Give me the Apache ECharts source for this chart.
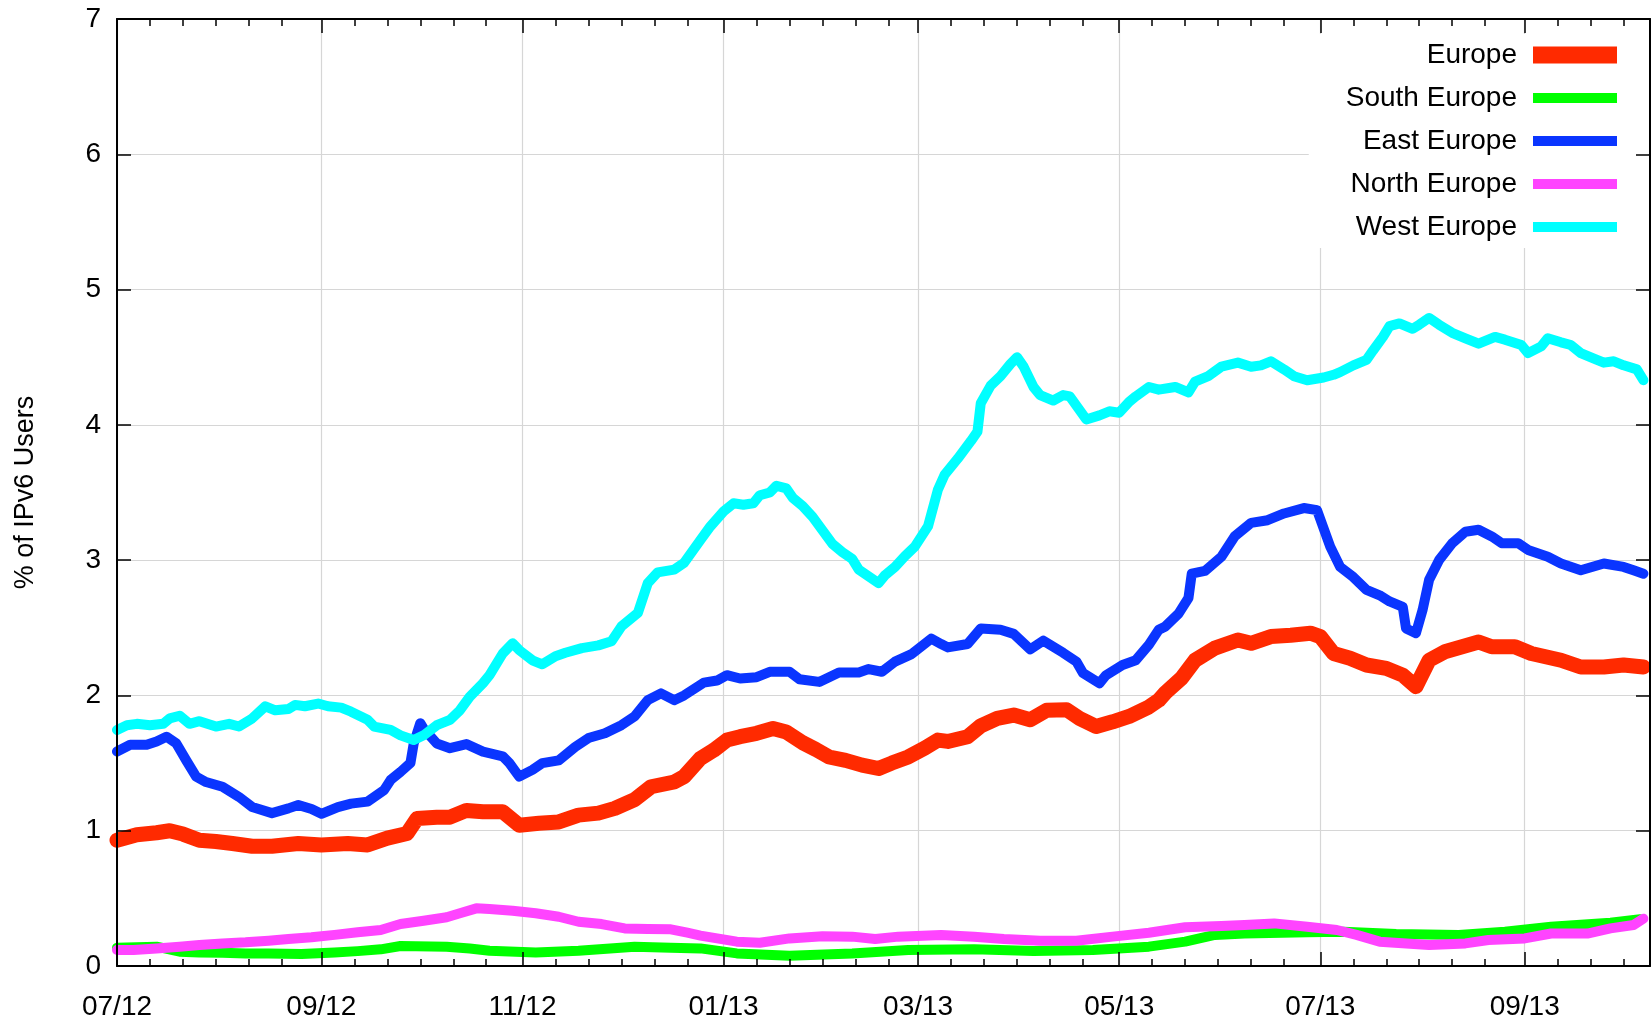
<!DOCTYPE html>
<html>
<head>
<meta charset="utf-8">
<title>% of IPv6 Users - Europe</title>
<script src="https://cdn.jsdelivr.net/npm/echarts@6/dist/echarts.min.js"></script>
<style>
html,body{margin:0;padding:0;background:#fff;}
#chart{width:1652px;height:1022px;}
</style>
</head>
<body>
<div id="chart"></div>
<script>
// ---------------- data ----------------
const xRange = ['2012-07-01', '2013-10-09'];
const majorTickDates = ['2012-07-01','2012-09-01','2012-11-01','2013-01-01','2013-03-01','2013-05-01','2013-07-01','2013-09-01'];
const majorTickLabels = ['07/12','09/12','11/12','01/13','03/13','05/13','07/13','09/13'];
const minorStepDays = 10;
const yTicks = [0, 1, 2, 3, 4, 5, 6, 7];

const seriesNames = ['Europe', 'South Europe', 'East Europe', 'North Europe', 'West Europe'];

const europe = [
['2012-07-01',0.93],['2012-07-07',0.97],['2012-07-13',0.985],['2012-07-17',1.0],['2012-07-21',0.975],['2012-07-26',0.93],['2012-07-31',0.92],['2012-08-05',0.905],['2012-08-11',0.885],['2012-08-17',0.885],['2012-08-25',0.905],['2012-09-01',0.895],['2012-09-09',0.905],['2012-09-15',0.895],['2012-09-21',0.945],['2012-09-27',0.98],['2012-09-30',1.09],['2012-10-06',1.10],['2012-10-10',1.10],['2012-10-15',1.15],['2012-10-20',1.14],['2012-10-26',1.14],['2012-10-31',1.04],['2012-11-06',1.055],['2012-11-12',1.065],['2012-11-18',1.115],['2012-11-24',1.13],['2012-11-29',1.165],['2012-12-05',1.23],['2012-12-10',1.325],['2012-12-17',1.36],['2012-12-20',1.40],['2012-12-25',1.535],['2012-12-29',1.595],['2013-01-02',1.67],['2013-01-06',1.695],['2013-01-11',1.72],['2013-01-16',1.755],['2013-01-20',1.73],['2013-01-25',1.65],['2013-01-29',1.60],['2013-02-02',1.545],['2013-02-07',1.52],['2013-02-12',1.485],['2013-02-17',1.46],['2013-02-21',1.50],['2013-02-26',1.545],['2013-03-03',1.61],['2013-03-07',1.67],['2013-03-10',1.66],['2013-03-16',1.695],['2013-03-20',1.775],['2013-03-25',1.83],['2013-03-30',1.855],['2013-04-04',1.82],['2013-04-09',1.89],['2013-04-15',1.895],['2013-04-19',1.83],['2013-04-24',1.77],['2013-04-29',1.805],['2013-05-04',1.845],['2013-05-10',1.915],['2013-05-13',1.965],['2013-05-15',2.02],['2013-05-20',2.13],['2013-05-24',2.26],['2013-05-30',2.35],['2013-06-06',2.41],['2013-06-10',2.385],['2013-06-16',2.435],['2013-06-22',2.445],['2013-06-28',2.46],['2013-07-01',2.435],['2013-07-05',2.31],['2013-07-10',2.275],['2013-07-15',2.225],['2013-07-21',2.20],['2013-07-26',2.15],['2013-07-30',2.065],['2013-08-03',2.26],['2013-08-08',2.325],['2013-08-13',2.36],['2013-08-18',2.395],['2013-08-22',2.36],['2013-08-29',2.36],['2013-09-03',2.31],['2013-09-12',2.26],['2013-09-18',2.21],['2013-09-25',2.21],['2013-10-01',2.225],['2013-10-07',2.21]
];

const southEurope = [
['2012-07-01',0.135],['2012-07-13',0.143],['2012-07-20',0.106],['2012-07-26',0.10],['2012-08-02',0.098],['2012-08-09',0.093],['2012-08-16',0.093],['2012-08-26',0.088],['2012-09-05',0.10],['2012-09-12',0.11],['2012-09-19',0.123],['2012-09-25',0.148],['2012-10-09',0.143],['2012-10-16',0.13],['2012-10-22',0.113],['2012-11-05',0.10],['2012-11-18',0.113],['2012-12-05',0.143],['2012-12-16',0.135],['2012-12-25',0.13],['2013-01-05',0.093],['2013-01-21',0.076],['2013-02-09',0.093],['2013-02-26',0.118],['2013-03-18',0.123],['2013-04-05',0.11],['2013-04-23',0.118],['2013-05-10',0.143],['2013-05-21',0.18],['2013-05-30',0.23],['2013-06-08',0.24],['2013-06-27',0.249],['2013-07-08',0.254],['2013-07-24',0.236],['2013-08-12',0.23],['2013-08-26',0.254],['2013-09-09',0.29],['2013-09-27',0.32],['2013-10-06',0.345]
];

const eastEurope = [
['2012-07-01',1.585],['2012-07-05',1.635],['2012-07-10',1.635],['2012-07-13',1.66],['2012-07-16',1.695],['2012-07-19',1.645],['2012-07-22',1.52],['2012-07-25',1.40],['2012-07-28',1.36],['2012-08-02',1.325],['2012-08-07',1.25],['2012-08-11',1.175],['2012-08-17',1.13],['2012-08-22',1.165],['2012-08-25',1.19],['2012-08-29',1.16],['2012-09-01',1.125],['2012-09-06',1.175],['2012-09-10',1.20],['2012-09-15',1.215],['2012-09-20',1.30],['2012-09-22',1.375],['2012-09-25',1.435],['2012-09-28',1.50],['2012-09-29',1.645],['2012-10-01',1.795],['2012-10-02',1.755],['2012-10-06',1.645],['2012-10-10',1.61],['2012-10-15',1.64],['2012-10-20',1.585],['2012-10-26',1.55],['2012-10-28',1.50],['2012-10-31',1.40],['2012-11-04',1.45],['2012-11-07',1.50],['2012-11-12',1.52],['2012-11-17',1.62],['2012-11-21',1.685],['2012-11-26',1.72],['2012-12-01',1.78],['2012-12-05',1.845],['2012-12-09',1.965],['2012-12-13',2.015],['2012-12-17',1.965],['2012-12-20',2.0],['2012-12-26',2.095],['2012-12-30',2.11],['2013-01-02',2.15],['2013-01-06',2.125],['2013-01-11',2.135],['2013-01-15',2.175],['2013-01-21',2.175],['2013-01-24',2.12],['2013-01-30',2.10],['2013-02-05',2.17],['2013-02-11',2.17],['2013-02-14',2.195],['2013-02-18',2.175],['2013-02-22',2.25],['2013-02-27',2.305],['2013-03-05',2.42],['2013-03-08',2.38],['2013-03-10',2.355],['2013-03-16',2.38],['2013-03-20',2.495],['2013-03-26',2.485],['2013-03-30',2.455],['2013-04-04',2.34],['2013-04-08',2.405],['2013-04-14',2.315],['2013-04-18',2.25],['2013-04-20',2.165],['2013-04-25',2.09],['2013-04-27',2.15],['2013-05-02',2.225],['2013-05-06',2.26],['2013-05-10',2.375],['2013-05-13',2.485],['2013-05-15',2.51],['2013-05-19',2.605],['2013-05-22',2.72],['2013-05-23',2.90],['2013-05-27',2.92],['2013-06-01',3.025],['2013-06-05',3.175],['2013-06-10',3.275],['2013-06-15',3.295],['2013-06-20',3.345],['2013-06-26',3.385],['2013-06-30',3.37],['2013-07-04',3.10],['2013-07-07',2.95],['2013-07-11',2.875],['2013-07-15',2.78],['2013-07-19',2.74],['2013-07-22',2.695],['2013-07-26',2.655],['2013-07-27',2.495],['2013-07-30',2.46],['2013-08-01',2.63],['2013-08-03',2.855],['2013-08-06',3.0],['2013-08-10',3.125],['2013-08-14',3.21],['2013-08-18',3.225],['2013-08-22',3.175],['2013-08-25',3.125],['2013-08-30',3.125],['2013-09-02',3.075],['2013-09-08',3.025],['2013-09-12',2.975],['2013-09-18',2.925],['2013-09-25',2.975],['2013-10-01',2.95],['2013-10-04',2.925],['2013-10-07',2.90]
];

const northEurope = [
['2012-07-01',0.118],['2012-07-06',0.118],['2012-07-13',0.13],['2012-07-20',0.143],['2012-07-26',0.155],['2012-08-02',0.167],['2012-08-09',0.175],['2012-08-16',0.187],['2012-08-22',0.20],['2012-08-29',0.212],['2012-09-05',0.23],['2012-09-12',0.249],['2012-09-19',0.266],['2012-09-25',0.31],['2012-10-02',0.335],['2012-10-09',0.36],['2012-10-13',0.39],['2012-10-18',0.426],['2012-10-22',0.421],['2012-10-29',0.409],['2012-11-05',0.39],['2012-11-12',0.364],['2012-11-18',0.327],['2012-11-25',0.31],['2012-12-02',0.278],['2012-12-09',0.273],['2012-12-16',0.271],['2012-12-21',0.246],['2012-12-25',0.225],['2013-01-05',0.18],['2013-01-12',0.172],['2013-01-21',0.204],['2013-01-31',0.22],['2013-02-09',0.217],['2013-02-16',0.20],['2013-02-23',0.217],['2013-03-08',0.23],['2013-03-18',0.217],['2013-03-27',0.20],['2013-04-07',0.187],['2013-04-18',0.187],['2013-04-29',0.217],['2013-05-10',0.246],['2013-05-21',0.286],['2013-06-01',0.296],['2013-06-08',0.303],['2013-06-17',0.315],['2013-06-27',0.29],['2013-07-06',0.266],['2013-07-12',0.23],['2013-07-19',0.18],['2013-08-03',0.155],['2013-08-14',0.167],['2013-08-21',0.192],['2013-09-01',0.204],['2013-09-09',0.24],['2013-09-20',0.24],['2013-09-27',0.278],['2013-10-04',0.303],['2013-10-07',0.35]
];

const westEurope = [
['2012-07-01',1.745],['2012-07-04',1.78],['2012-07-07',1.79],['2012-07-11',1.78],['2012-07-15',1.79],['2012-07-17',1.83],['2012-07-20',1.85],['2012-07-23',1.79],['2012-07-26',1.81],['2012-07-31',1.77],['2012-08-04',1.79],['2012-08-07',1.77],['2012-08-11',1.83],['2012-08-15',1.92],['2012-08-18',1.89],['2012-08-22',1.90],['2012-08-24',1.93],['2012-08-27',1.92],['2012-08-31',1.94],['2012-09-03',1.92],['2012-09-07',1.91],['2012-09-10',1.88],['2012-09-15',1.82],['2012-09-17',1.77],['2012-09-22',1.745],['2012-09-25',1.705],['2012-09-29',1.67],['2012-10-02',1.705],['2012-10-06',1.78],['2012-10-10',1.82],['2012-10-13',1.89],['2012-10-16',1.99],['2012-10-20',2.09],['2012-10-22',2.15],['2012-10-26',2.31],['2012-10-29',2.385],['2012-10-31',2.335],['2012-11-04',2.26],['2012-11-07',2.23],['2012-11-11',2.29],['2012-11-14',2.315],['2012-11-19',2.35],['2012-11-24',2.37],['2012-11-28',2.40],['2012-12-01',2.51],['2012-12-06',2.61],['2012-12-09',2.83],['2012-12-12',2.91],['2012-12-17',2.93],['2012-12-20',2.98],['2012-12-25',3.15],['2012-12-28',3.25],['2013-01-01',3.36],['2013-01-04',3.42],['2013-01-07',3.41],['2013-01-10',3.42],['2013-01-12',3.48],['2013-01-15',3.50],['2013-01-17',3.55],['2013-01-20',3.53],['2013-01-22',3.46],['2013-01-25',3.40],['2013-01-28',3.32],['2013-01-31',3.22],['2013-02-03',3.12],['2013-02-06',3.06],['2013-02-09',3.01],['2013-02-11',2.93],['2013-02-14',2.88],['2013-02-17',2.83],['2013-02-19',2.89],['2013-02-22',2.95],['2013-02-25',3.03],['2013-02-28',3.10],['2013-03-04',3.25],['2013-03-07',3.52],['2013-03-09',3.63],['2013-03-13',3.75],['2013-03-17',3.88],['2013-03-19',3.95],['2013-03-20',4.16],['2013-03-23',4.29],['2013-03-26',4.36],['2013-03-29',4.45],['2013-03-31',4.50],['2013-04-02',4.43],['2013-04-05',4.28],['2013-04-07',4.22],['2013-04-11',4.18],['2013-04-14',4.22],['2013-04-16',4.21],['2013-04-21',4.04],['2013-04-25',4.07],['2013-04-28',4.10],['2013-05-01',4.09],['2013-05-04',4.17],['2013-05-06',4.21],['2013-05-10',4.28],['2013-05-13',4.26],['2013-05-18',4.28],['2013-05-22',4.24],['2013-05-24',4.32],['2013-05-28',4.36],['2013-06-01',4.43],['2013-06-06',4.46],['2013-06-10',4.43],['2013-06-13',4.44],['2013-06-16',4.47],['2013-06-20',4.41],['2013-06-23',4.36],['2013-06-27',4.33],['2013-07-02',4.35],['2013-07-05',4.37],['2013-07-07',4.39],['2013-07-11',4.44],['2013-07-15',4.48],['2013-07-17',4.55],['2013-07-20',4.65],['2013-07-22',4.73],['2013-07-25',4.75],['2013-07-29',4.71],['2013-07-31',4.74],['2013-08-03',4.79],['2013-08-06',4.74],['2013-08-10',4.68],['2013-08-14',4.64],['2013-08-18',4.60],['2013-08-23',4.65],['2013-08-26',4.63],['2013-08-31',4.59],['2013-09-02',4.53],['2013-09-06',4.58],['2013-09-08',4.64],['2013-09-12',4.61],['2013-09-15',4.59],['2013-09-18',4.53],['2013-09-22',4.49],['2013-09-25',4.46],['2013-09-28',4.47],['2013-10-01',4.44],['2013-10-05',4.41],['2013-10-07',4.33]
];

// ---------------- chart ----------------
const DAY = 86400000;
function ts(s) { const p = s.split('-').map(Number); return Date.UTC(p[0], p[1] - 1, p[2]); }
const xMin = ts(xRange[0]);
const xMax = ts(xRange[1]);
const majorTicks = majorTickDates.map(ts);
const minorTicks = [];
majorTicks.forEach(function (t, i) {
  const next = i + 1 < majorTicks.length ? majorTicks[i + 1] : xMax + 1;
  for (let k = 1; k <= 5; k++) {
    const m = t + k * minorStepDays * DAY;
    if (m < next && m <= xMax) minorTicks.push(m);
  }
});
function labelFor(v) {
  for (let i = 0; i < majorTicks.length; i++) {
    if (Math.abs(majorTicks[i] - v) < DAY / 2) return majorTickLabels[i];
  }
  return '';
}

const FONT = "'Liberation Sans', Arial, Helvetica, sans-serif";
const GRID_COLOR = '#d6d6d6';
const colors = ['#ff2a00', '#00ff00', '#0a35ff', '#ff44ff', '#00ffff'];
const widths = [15, 10, 10, 10, 10];
const allData = [europe, southEurope, eastEurope, northEurope, westEurope];

// x values are timestamps (ms) on a linear value axis
const baseX = { type: 'value', min: xMin, max: xMax, gridIndex: 0, scale: true };
const axisLineStyle = { show: true, onZero: false, lineStyle: { color: '#000', width: 2 } };
const tickStyle = { color: '#000', width: 1.5 };

const xAxes = [
  Object.assign({}, baseX, {
    position: 'bottom', z: 0,
    axisLine: { show: false, onZero: false },
    axisTick: { show: false, customValues: majorTicks },
    axisLabel: { show: false },
    splitLine: { show: true, lineStyle: { color: GRID_COLOR, width: 1.2 } }
  }),
  Object.assign({}, baseX, {
    position: 'bottom', z: 10,
    axisLine: axisLineStyle,
    axisTick: { show: true, inside: true, length: 14, customValues: majorTicks, lineStyle: tickStyle },
    axisLabel: { show: true, customValues: majorTicks, formatter: labelFor, margin: 27, fontSize: 28, color: '#000', fontFamily: FONT },
    splitLine: { show: false }
  }),
  Object.assign({}, baseX, {
    position: 'top', z: 10,
    axisLine: axisLineStyle,
    axisTick: { show: true, inside: true, length: 14, customValues: majorTicks, lineStyle: tickStyle },
    axisLabel: { show: false },
    splitLine: { show: false }
  }),
  Object.assign({}, baseX, {
    position: 'bottom', z: 10,
    axisLine: { show: false, onZero: false },
    axisTick: { show: true, inside: true, length: 7, customValues: minorTicks, lineStyle: tickStyle },
    axisLabel: { show: false },
    splitLine: { show: false }
  }),
  Object.assign({}, baseX, {
    position: 'top', z: 10,
    axisLine: { show: false, onZero: false },
    axisTick: { show: true, inside: true, length: 7, customValues: minorTicks, lineStyle: tickStyle },
    axisLabel: { show: false },
    splitLine: { show: false }
  })
];

const baseY = { type: 'value', min: yTicks[0], max: yTicks[yTicks.length - 1], interval: 1, gridIndex: 0 };
const yAxes = [
  Object.assign({}, baseY, {
    position: 'left', z: 0,
    axisLine: { show: false, onZero: false },
    axisTick: { show: false },
    axisLabel: { show: false },
    splitLine: { show: true, lineStyle: { color: GRID_COLOR, width: 1.2 } }
  }),
  Object.assign({}, baseY, {
    position: 'left', z: 10,
    axisLine: axisLineStyle,
    axisTick: { show: true, inside: true, length: 14, lineStyle: tickStyle },
    axisLabel: { show: true, margin: 16, fontSize: 28, color: '#000', fontFamily: FONT },
    splitLine: { show: false },
    name: '% of IPv6 Users', nameLocation: 'middle', nameGap: 78, nameRotate: 90,
    nameTextStyle: { fontSize: 27, color: '#000', fontFamily: FONT }
  }),
  Object.assign({}, baseY, {
    position: 'right', z: 10,
    axisLine: axisLineStyle,
    axisTick: { show: true, inside: true, length: 14, lineStyle: tickStyle },
    axisLabel: { show: false },
    splitLine: { show: false }
  })
];

const series = seriesNames.map(function (name, i) {
  return {
    name: name,
    type: 'line',
    xAxisIndex: 0,
    yAxisIndex: 0,
    data: allData[i].map(function (d) { return [ts(d[0]), d[1]]; }),
    showSymbol: false,
    symbol: 'none',
    smooth: false,
    silent: true,
    emphasis: { disabled: true },
    lineStyle: { color: colors[i], width: widths[i], cap: 'round', join: 'round' },
    itemStyle: { color: colors[i] }
  };
});

const legendData = seriesNames.map(function (name, i) {
  const h = widths[i] === 15 ? 17 : 10;
  return { name: name, icon: 'path://M0 0H84V' + h + 'H0Z' };
});

const chart = echarts.init(document.getElementById('chart'), null, { renderer: 'canvas', width: 1652, height: 1022 });
chart.setOption({
  animation: false,
  backgroundColor: '#ffffff',
  grid: { left: 117, right: 2, top: 19, bottom: 56, containLabel: false, outerBoundsMode: 'none' },
  legend: {
    orient: 'vertical',
    align: 'right',
    right: 4,
    top: 34,
    padding: [7, 31, 7, 37],
    itemGap: 15,
    itemWidth: 84,
    itemHeight: 17,
    symbolKeepAspect: true,
    backgroundColor: '#ffffff',
    selectedMode: false,
    itemStyle: { borderWidth: 0 },
    textStyle: { fontSize: 28, color: '#000', fontFamily: FONT, padding: [0, 11, 0, 0] },
    data: legendData
  },
  xAxis: xAxes,
  yAxis: yAxes,
  series: series
});
</script>
</body>
</html>
